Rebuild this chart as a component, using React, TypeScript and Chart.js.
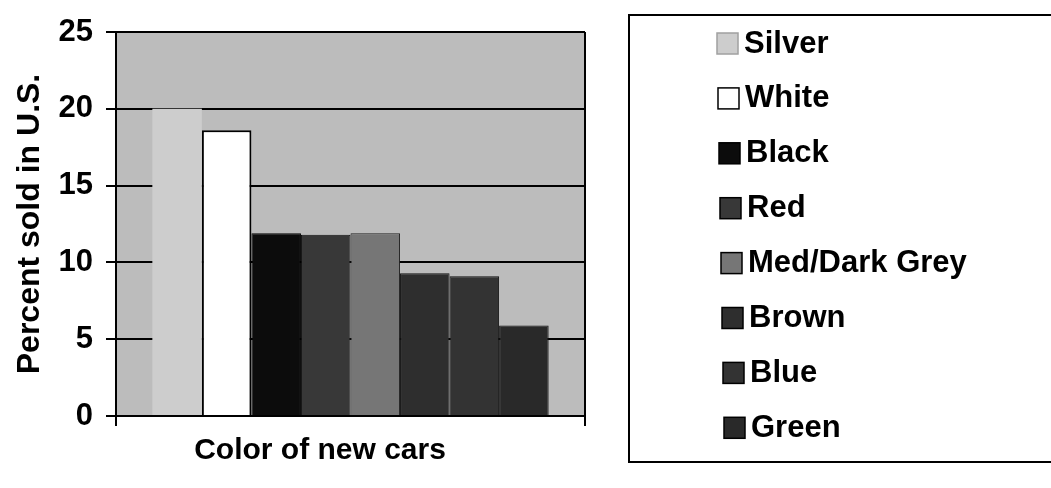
import React, { useEffect, useRef } from "react";
import { Chart, registerables } from "chart.js";

Chart.register(...registerables);

const categories = [""];
const seriesNames = ["Silver", "White", "Black", "Red", "Med/Dark Grey", "Brown", "Blue", "Green"];
const seriesValues = [20, 18.6, 11.9, 11.8, 11.9, 9.3, 9.1, 5.9];
const seriesColors = ["#cdcdcd", "#ffffff", "#0c0c0c", "#383838", "#767676", "#2e2e2e", "#333333", "#292929"];
const seriesBorders = ["#cdcdcd", "#000000", "#000000", "#111111", "#222222", "#111111", "#111111", "#111111"];
const yTicks = [0, 5, 10, 15, 20, 25];
const xTitle = "Color of new cars";
const yTitle = "Percent sold in U.S.";

const FONT = "'Liberation Sans', Arial, sans-serif";

const bgPlugin = {
  id: "plotBg",
  beforeDraw(chart: any) {
    const { ctx, chartArea } = chart;
    ctx.save();
    ctx.fillStyle = "#bcbcbc";
    ctx.fillRect(chartArea.left, chartArea.top, chartArea.right - chartArea.left, chartArea.bottom - chartArea.top);
    ctx.restore();
  },
};

const legendPlugin = {
  id: "boxLegend",
  afterDraw(chart: any) {
    const { ctx } = chart;
    ctx.save();
    // legend frame
    ctx.strokeStyle = "#000";
    ctx.lineWidth = 2;
    ctx.strokeRect(629, 15, 440, 447);
    ctx.font = `bold 31px ${FONT}`;
    ctx.textBaseline = "middle";
    ctx.textAlign = "left";
    chart.data.datasets.forEach((ds: any, i: number) => {
      const cy = 43 + i * 54.9;
      const sx = 717 + i * 1;
      ctx.fillStyle = ds.backgroundColor;
      ctx.fillRect(sx, cy - 10, 21, 21);
      ctx.strokeStyle = i === 0 ? "#a0a0a0" : "#000";
      ctx.lineWidth = 1.5;
      ctx.strokeRect(sx, cy - 10, 21, 21);
      ctx.fillStyle = "#000";
      ctx.fillText(ds.label, sx + 27, cy + 1);
    });
    // x axis title
    ctx.textAlign = "center";
    ctx.font = `bold 30px ${FONT}`;
    ctx.fillText(xTitle, 320, 451);
    ctx.restore();
  },
};

export default function App() {
  const ref = useRef<HTMLCanvasElement | null>(null);
  useEffect(() => {
    if (!ref.current) return;
    const chart = new Chart(ref.current, {
      type: "bar",
      data: {
        labels: categories,
        datasets: seriesNames.map((name, i) => ({
          label: name,
          data: [seriesValues[i]],
          backgroundColor: seriesColors[i],
          borderColor: seriesBorders[i],
          borderWidth: i === 0 ? 0 : i === 1 ? 2 : 1,
          categoryPercentage: 0.845,
          barPercentage: 1,
        })),
      },
      options: {
        responsive: false,
        animation: false,
        devicePixelRatio: 1,
        layout: { padding: { top: 32, right: 466, left: 0, bottom: 0 } },
        plugins: { legend: { display: false }, tooltip: { enabled: false } },
        scales: {
          x: {
            afterFit: (s: any) => { s.height = 72; },
            ticks: { display: false },
            grid: { display: true, color: "#000", lineWidth: 2, drawOnChartArea: true, drawTicks: true, tickLength: 10, tickColor: "#000" },
            border: { display: true, color: "#000", width: 2 },
          },
          y: {
            min: 0,
            max: 25,
            afterFit: (s: any) => { s.width = 116; },
            afterBuildTicks: (s: any) => { s.ticks = yTicks.map((v) => ({ value: v })); },
            ticks: { color: "#000", padding: 13, font: { family: FONT, size: 31, weight: "bold" } },
            grid: { color: "#000", lineWidth: 2, drawTicks: true, tickLength: 10, tickColor: "#000" },
            border: { display: true, color: "#000", width: 2 },
            title: {
              display: true,
              text: yTitle,
              color: "#000",
              font: { family: FONT, size: 32, weight: "bold", lineHeight: 1 },
              padding: { top: 14, bottom: 0 },
            },
          },
        },
      },
      plugins: [bgPlugin, legendPlugin],
    });
    return () => chart.destroy();
  }, []);
  return (
    <div style={{ position: "absolute", left: 0, top: 0, width: 1051, height: 488, background: "#fff" }}>
      <canvas ref={ref} width={1051} height={488} style={{ width: 1051, height: 488 }} />
    </div>
  );
}
